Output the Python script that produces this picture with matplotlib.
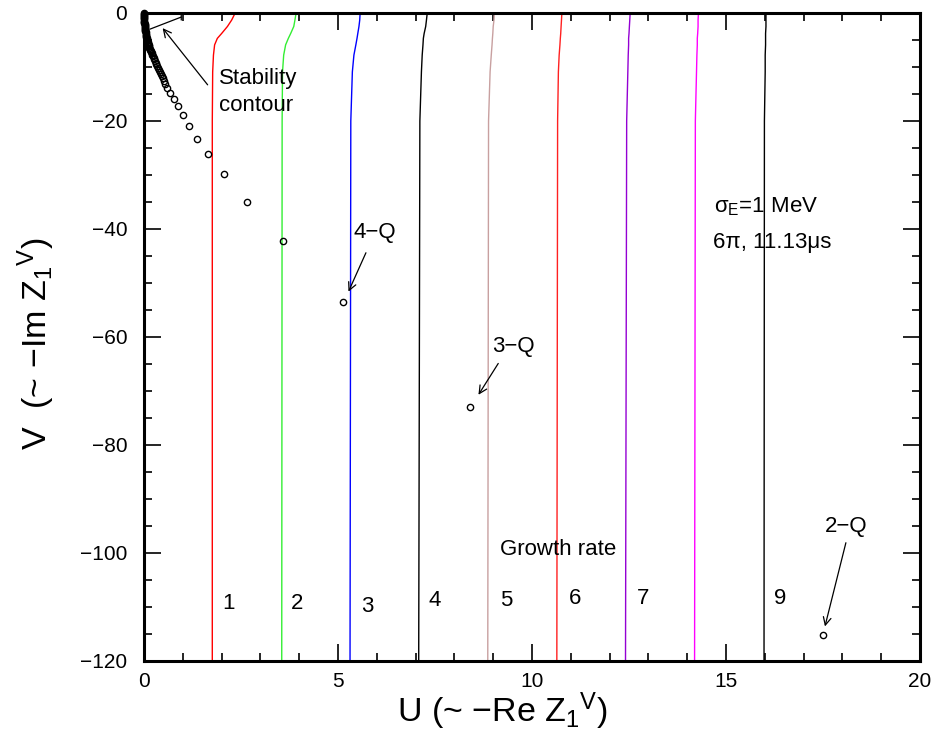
import matplotlib
matplotlib.use("Agg")
import matplotlib.pyplot as plt
from matplotlib.ticker import MultipleLocator

plt.rcParams['font.family'] = ['Liberation Sans', 'DejaVu Sans']
plt.rcParams['mathtext.fontset'] = 'custom'
plt.rcParams['mathtext.rm'] = 'Liberation Sans'
plt.rcParams['mathtext.it'] = 'Liberation Sans'
plt.rcParams['mathtext.sf'] = 'Liberation Sans'
plt.rcParams['mathtext.default'] = 'regular'

# ---------------- data ----------------
# growth-rate contours: U as a function of V (common V samples)
contour_V = [0, -1.3, -2.5, -3.8, -4.7, -5.9, -7.8, -10.9, -20, -120]
contour_U = {
    "1": [2.35, 2.26, 2.15, 2.00, 1.89, 1.82, 1.79, 1.77, 1.76, 1.76],
    "2": [3.92, 3.89, 3.86, 3.78, 3.72, 3.65, 3.60, 3.57, 3.56, 3.55],
    "3": [5.57, 5.56, 5.54, 5.51, 5.49, 5.46, 5.41, 5.37, 5.33, 5.31],
    "4": [7.30, 7.28, 7.26, 7.22, 7.20, 7.19, 7.17, 7.15, 7.11, 7.08],
    "5": [9.03, 9.02, 9.00, 8.99, 8.98, 8.97, 8.95, 8.92, 8.88, 8.86],
    "6": [10.77, 10.76, 10.75, 10.74, 10.73, 10.72, 10.70, 10.68, 10.66, 10.64],
    "7": [12.53, 12.52, 12.51, 12.50, 12.49, 12.49, 12.48, 12.47, 12.44, 12.41],
    "8": [14.29, 14.28, 14.28, 14.27, 14.26, 14.26, 14.25, 14.24, 14.21, 14.19],
    "9": [16.03, 16.03, 16.03, 16.02, 16.02, 16.02, 16.01, 16.01, 15.99, 15.98],
}
contour_colors = {
    "1": "#ff0000", "2": "#33ee33", "3": "#0000ff", "4": "#000000",
    "5": "#c8a0a0", "6": "#ff2020", "7": "#9400d3", "8": "#ff00ff",
    "9": "#000000",
}
# contour number labels (label text, U, V)
label_text = ["1", "2", "3", "4", "5", "6", "7", "9"]
label_U = [2.18, 3.95, 5.76, 7.49, 9.33, 11.10, 12.87, 16.39]
label_V = [-110.4, -110.4, -110.9, -109.9, -109.8, -109.4, -109.4, -109.4]

# stability contour points
stab_U = [0.0, 0.0, 0.0, 0.001, 0.002, 0.003, 0.005, 0.007, 0.009, 0.011,
          0.013, 0.016, 0.019, 0.022, 0.025, 0.029, 0.033, 0.037, 0.041,
          0.046, 0.051, 0.056, 0.062, 0.068, 0.074, 0.081, 0.088, 0.095,
          0.103, 0.111, 0.120, 0.129, 0.139, 0.149, 0.160, 0.172, 0.184,
          0.197, 0.212, 0.228, 0.245, 0.263, 0.28, 0.30, 0.32, 0.34, 0.36,
          0.385, 0.41, 0.435, 0.46, 0.49, 0.52, 0.55, 0.58, 0.67, 0.77,
          0.87, 1.00, 1.17, 1.37, 1.66, 2.06, 2.65, 3.58, 5.14, 8.40, 17.49]
stab_V = [0.0, -0.2, -0.4, -0.6, -0.8, -1.0, -1.2, -1.4, -1.6, -1.8,
          -2.0, -2.2, -2.4, -2.6, -2.8, -3.0, -3.2, -3.4, -3.6,
          -3.8, -4.0, -4.2, -4.4, -4.6, -4.8, -5.0, -5.2, -5.4,
          -5.6, -5.8, -6.0, -6.2, -6.4, -6.6, -6.8, -7.0, -7.2,
          -7.4, -7.7, -8.0, -8.3, -8.6, -8.9, -9.2, -9.5, -9.8, -10.1,
          -10.5, -10.9, -11.3, -11.7, -12.1, -12.6, -13.1, -13.9, -14.9, -16.0,
          -17.3, -18.9, -20.9, -23.3, -26.2, -29.8, -35.0, -42.2, -53.6, -72.9,
          -115.2]

x_ticks = [0, 5, 10, 15, 20]
y_ticks = [0, -20, -40, -60, -80, -100, -120]

# ---------------- figure ----------------
fig = plt.figure(figsize=(9.33, 7.33), dpi=100)
ax = fig.add_axes([144/933, 1-661/733, (920-144)/933, (661-13)/733])

for key, us in contour_U.items():
    ax.plot(us, contour_V, color=contour_colors[key], lw=1.0)

ax.plot(stab_U, stab_V, 'o', ls='none', mfc='none', mec='black',
        ms=4.5, mew=1.0, clip_on=False, zorder=5)

for t, u, v in zip(label_text, label_U, label_V):
    ax.text(u, v, t, fontsize=16, ha='center', va='baseline')

ax.text(9.18, -100.4, "Growth rate", fontsize=16, ha='left', va='baseline')
ax.text(14.70, -37.0, r"$\sigma_E$=1 MeV", fontsize=16, ha='left', va='baseline')
ax.text(14.66, -43.6, "6π, 11.13μs", fontsize=16, ha='left', va='baseline')

ax.text(1.93, -13.1, "Stability", fontsize=16, ha='left', va='baseline')
ax.text(1.93, -18.1, "contour", fontsize=16, ha='left', va='baseline')

arrow = dict(arrowstyle='->', color='black', lw=0.9,
             shrinkA=0, shrinkB=0, mutation_scale=14)
ax.annotate("", xy=(0.48, -2.8), xytext=(1.64, -13.3), arrowprops=arrow)
ax.annotate("", xy=(0.96, -0.75), xytext=(0.15, -3.0),
            arrowprops=dict(arrowstyle='-', color='black', lw=0.9,
                            shrinkA=0, shrinkB=0))
ax.annotate("", xy=(0.96, -0.3), xytext=(0.96, -1.3),
            arrowprops=dict(arrowstyle='-', color='black', lw=0.9,
                            shrinkA=0, shrinkB=0))

ax.text(5.40, -41.7, "4−Q", fontsize=16, ha='left', va='baseline')
ax.annotate("", xy=(5.27, -51.6), xytext=(5.72, -44.4), arrowprops=arrow)
ax.text(8.97, -62.8, "3−Q", fontsize=16, ha='left', va='baseline')
ax.annotate("", xy=(8.62, -70.7), xytext=(9.13, -64.9), arrowprops=arrow)
ax.text(17.55, -96.1, "2−Q", fontsize=16, ha='left', va='baseline')
ax.annotate("", xy=(17.55, -113.6), xytext=(18.09, -98.1), arrowprops=arrow)

ax.set_xlim(0, 20)
ax.set_ylim(-120, 0)
ax.set_xticks(x_ticks)
ax.set_xticklabels([str(v) for v in x_ticks])
ax.set_yticks(y_ticks)
ax.set_yticklabels([("−" + str(-v)) if v < 0 else str(v) for v in y_ticks])
ax.xaxis.set_minor_locator(MultipleLocator(1))
ax.yaxis.set_minor_locator(MultipleLocator(5))
ax.tick_params(which='both', direction='in', top=True, right=True,
               width=1.2, color='black')
ax.tick_params(which='major', length=12, labelsize=15)
ax.tick_params(axis='x', which='major', pad=8)
ax.tick_params(axis='y', which='major', pad=12)
ax.tick_params(which='minor', length=6)
for sp in ax.spines.values():
    sp.set_linewidth(2.2)

fig.text(397/933, 1-722/733, r"U (~ −Re Z$_1$$^{V}$)", fontsize=24.5,
         ha='left', va='baseline')
fig.text(47/933, 1-450/733, r"V  (~ −Im Z$_1$$^{V}$)", fontsize=24.5,
         ha='left', va='baseline', rotation=90, rotation_mode='anchor')

fig.savefig("out.png", dpi=100)
